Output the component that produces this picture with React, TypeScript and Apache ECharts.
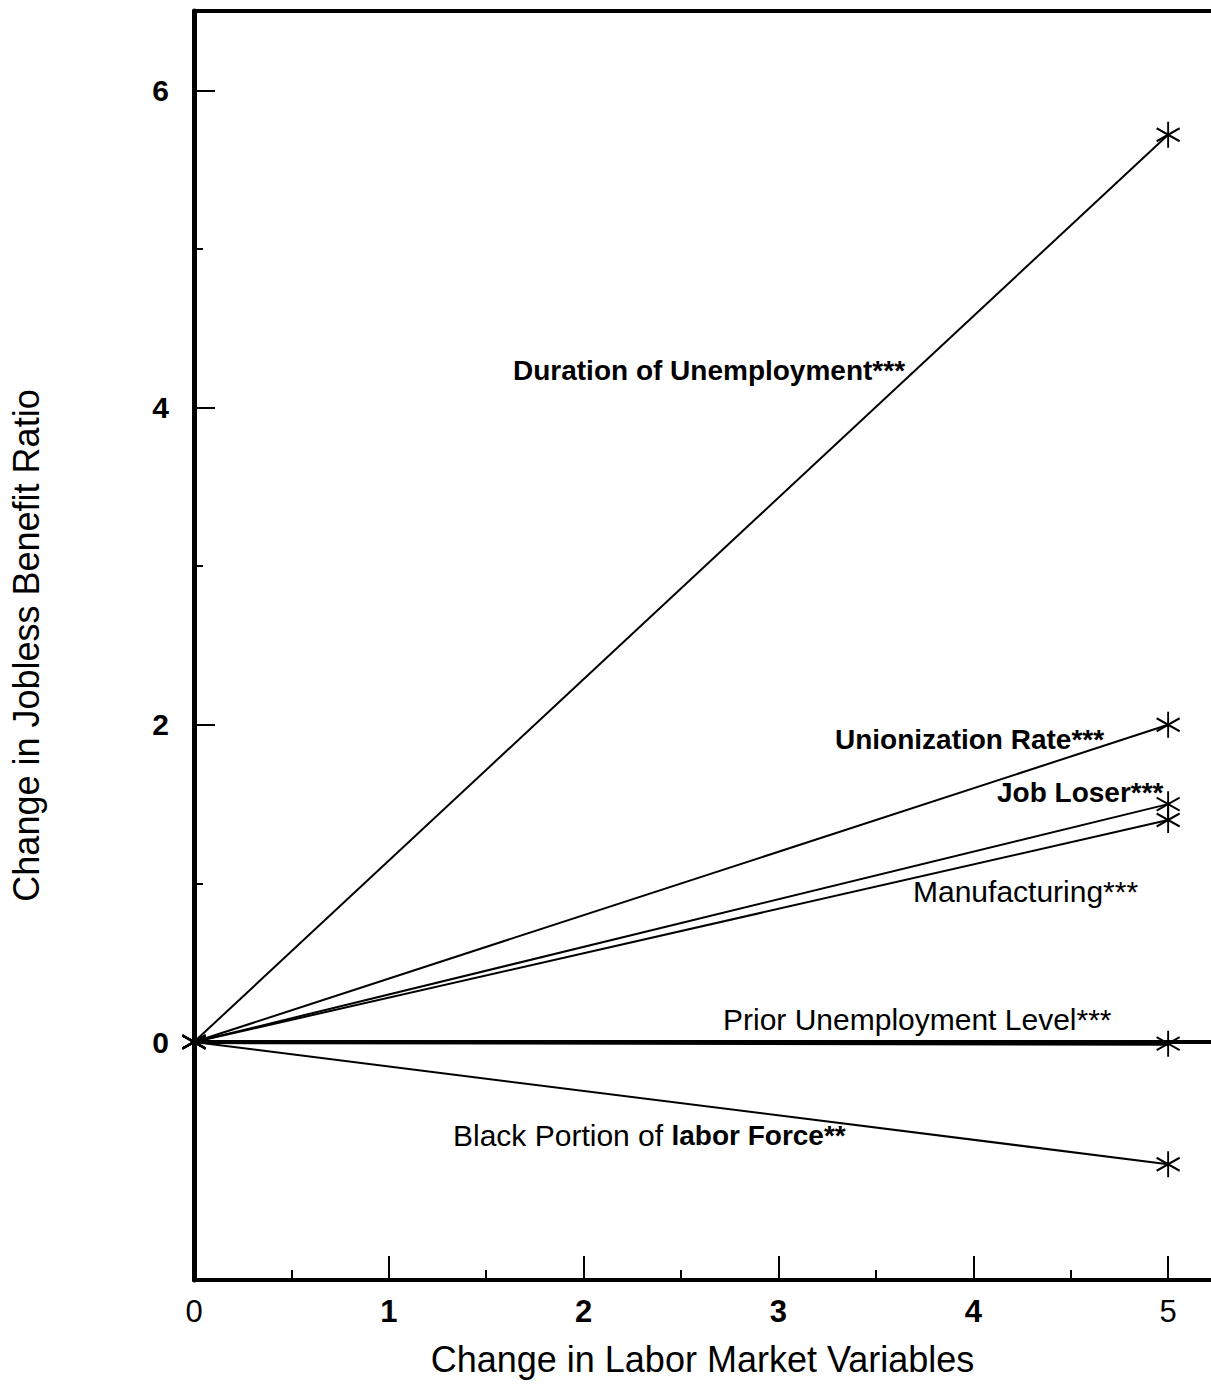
import React, { useEffect, useRef } from "react";
import * as echarts from "echarts";

const xPoints = [0, 5];
const durationVals = [0, 5.72];
const unionVals = [0, 2.0];
const jobLoserVals = [0, 1.5];
const manufVals = [0, 1.4];
const priorVals = [0, -0.01];
const blackVals = [0, -0.77];

const xMajorTicks = [0, 1, 2, 3, 4, 5];
const xMinorTicks = [0.5, 1.5, 2.5, 3.5, 4.5];
const yMajorTicks = [0, 2, 4, 6];
const yMinorTicks = [1, 3, 5];
const xBoldLabels = [1, 2, 3, 4];

const FONT = "'Liberation Sans', Arial, Helvetica, sans-serif";
const STAR =
  "path://M12.5,0 L12.5,26 M1,6.5 L24,19.5 M1,19.5 L24,6.5";

export default function App() {
  const ref = useRef<HTMLDivElement>(null);
  useEffect(() => {
    document.body.style.margin = "0";
    const chart = echarts.init(ref.current!, undefined, { renderer: "svg" });
    const mk = (name: string, vals: number[], width = 2) => ({
      name,
      type: "line",
      xAxisIndex: 0,
      yAxisIndex: 0,
      data: xPoints.map((x, i) => [x, vals[i]]),
      symbol: STAR,
      symbolSize: [23, 26],
      showSymbol: true,
      lineStyle: { color: "#000", width },
      itemStyle: { color: "#000", borderColor: "#000", borderWidth: 2 },
      z: 3,
    });
    const priorSeries: any = mk("Prior Unemployment Level", priorVals, 4);
    priorSeries.markLine = {
      silent: true,
      symbol: "none",
      label: { show: false },
      lineStyle: { color: "#000", width: 4, type: "solid" },
      data: [{ yAxis: 0 }],
    };
    const labelStyle = (bold: boolean, size: number) => ({
      fill: "#000",
      font: `${bold ? "bold " : ""}${size}px ${FONT}`,
      verticalAlign: "middle",
    });
    const option: any = {
      animation: false,
      backgroundColor: "#fff",
      grid: { left: 193, right: 0, top: 11, bottom: 104, containLabel: false },
      xAxis: [
        {
          type: "value",
          position: "bottom",
          min: 0,
          max: 5.22,
          name: "Change in Labor Market Variables",
          nameLocation: "middle",
          nameGap: 61,
          nameTextStyle: { fontFamily: FONT, fontSize: 36, color: "#000" },
          axisLine: { show: true, onZero: false, lineStyle: { color: "#000", width: 4 } },
          axisTick: {
            show: true,
            inside: true,
            length: 24,
            customValues: xMajorTicks,
            lineStyle: { color: "#000", width: 2 },
          },
          axisLabel: {
            show: true,
            customValues: xMajorTicks,
            margin: 16,
            formatter: (v: number) =>
              xBoldLabels.includes(v) ? `{b|${v}}` : `{n|${v}}`,
            rich: {
              b: { fontFamily: FONT, fontSize: 31, fontWeight: "bold", color: "#000" },
              n: { fontFamily: FONT, fontSize: 31, color: "#000" },
            },
          },
          splitLine: { show: false },
        },
        {
          type: "value",
          position: "bottom",
          min: 0,
          max: 5.22,
          axisLine: { show: false, onZero: false },
          axisTick: {
            show: true,
            inside: true,
            length: 10,
            customValues: xMinorTicks,
            lineStyle: { color: "#000", width: 2 },
          },
          axisLabel: { show: false },
          splitLine: { show: false },
        },
        {
          type: "value",
          position: "top",
          min: 0,
          max: 5.22,
          axisLine: { show: true, onZero: false, lineStyle: { color: "#000", width: 4 } },
          axisTick: { show: false },
          axisLabel: { show: false },
          splitLine: { show: false },
        },
      ],
      yAxis: [
        {
          type: "value",
          position: "left",
          min: -1.5,
          max: 6.5,
          name: "Change in Jobless Benefit Ratio",
          nameLocation: "middle",
          nameGap: 150,
          nameRotate: 90,
          nameTextStyle: { fontFamily: FONT, fontSize: 36, color: "#000" },
          axisLine: { show: true, onZero: false, lineStyle: { color: "#000", width: 5 } },
          axisTick: {
            show: true,
            inside: true,
            length: 21,
            customValues: yMajorTicks,
            lineStyle: { color: "#000", width: 2 },
          },
          axisLabel: {
            show: true,
            customValues: yMajorTicks,
            margin: 25,
            fontFamily: FONT,
            fontSize: 30,
            fontWeight: "bold",
            color: "#000",
          },
          splitLine: { show: false },
        },
        {
          type: "value",
          position: "left",
          min: -1.5,
          max: 6.5,
          axisLine: { show: false, onZero: false },
          axisTick: {
            show: true,
            inside: true,
            length: 9,
            customValues: yMinorTicks,
            lineStyle: { color: "#000", width: 2 },
          },
          axisLabel: { show: false },
          splitLine: { show: false },
        },
      ],
      series: [
        mk("Duration of Unemployment", durationVals),
        mk("Unionization Rate", unionVals),
        mk("Job Loser", jobLoserVals),
        mk("Manufacturing", manufVals),
        priorSeries,
        mk("Black Portion of Labor Force", blackVals),
      ],
      graphic: [
        { type: "text", left: 513, top: 356, style: { text: "Duration of Unemployment***", ...labelStyle(true, 28) } },
        { type: "text", left: 835, top: 725, style: { text: "Unionization Rate***", ...labelStyle(true, 28) } },
        { type: "text", left: 997, top: 778, style: { text: "Job Loser***", ...labelStyle(true, 28) } },
        { type: "text", left: 913, top: 876, style: { text: "Manufacturing***", ...labelStyle(false, 30) } },
        { type: "text", left: 723, top: 1004, style: { text: "Prior Unemployment Level***", ...labelStyle(false, 30) } },
        {
          type: "text",
          left: 453,
          top: 1120,
          style: {
            text: "{n|Black Portion of }{b|labor Force**}",
            rich: {
              n: { fontFamily: FONT, fontSize: 30, color: "#000" },
              b: { fontFamily: FONT, fontSize: 28, fontWeight: "bold", color: "#000" },
            },
            fill: "#000",
          },
        },
      ],
    };
    chart.setOption(option);
    return () => chart.dispose();
  }, []);
  return (
    <div
      ref={ref}
      style={{ position: "absolute", left: 0, top: 0, width: 1211, height: 1384 }}
    />
  );
}
